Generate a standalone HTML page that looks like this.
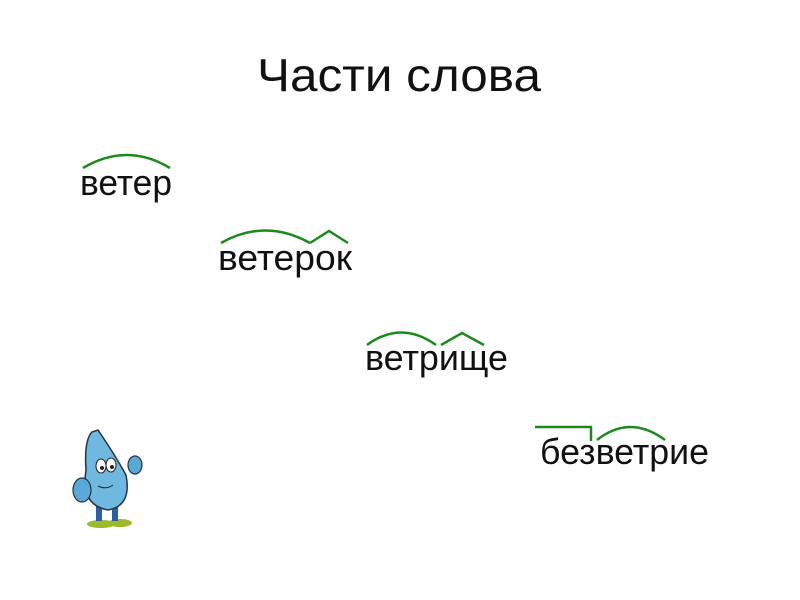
<!DOCTYPE html>
<html><head><meta charset="utf-8"><style>
html,body{margin:0;padding:0;background:#fff;width:800px;height:600px;overflow:hidden}
</style></head><body>
<svg width="800" height="600" xmlns="http://www.w3.org/2000/svg" font-family="'Liberation Sans', sans-serif">
<rect width="800" height="600" fill="#fff"/>
<text x="257" y="91" font-size="46" textLength="284" lengthAdjust="spacingAndGlyphs" fill="#111">Части слова</text>
<g font-size="36" fill="#111">
<text x="80" y="195" textLength="92" lengthAdjust="spacingAndGlyphs">ветер</text>
<text x="218" y="270" textLength="134" lengthAdjust="spacingAndGlyphs">ветерок</text>
<text x="365" y="370" textLength="143" lengthAdjust="spacingAndGlyphs">ветрище</text>
<text x="540" y="464" textLength="169" lengthAdjust="spacingAndGlyphs">безветрие</text>
</g>
<g stroke="#1a8a1a" stroke-width="2.5" fill="none">
<path d="M83 168 Q127 142 170 168"/>
<path d="M221 243 Q265 218 310 243"/>
<path d="M310 243 L329 231 L348 243"/>
<path d="M367 345 Q401 320 436 345"/>
<path d="M441 345 L462 333 L484 345"/>
<path d="M535 427 L591 427 L591 441"/>
<path d="M597 440 Q630 414 665 440"/>
</g>
<g>
<ellipse cx="101" cy="524" rx="14" ry="4" fill="#9bbb2a"/>
<ellipse cx="120" cy="523" rx="12" ry="4" fill="#9bbb2a"/>
<rect x="96" y="505" width="6" height="16" fill="#2a5fa8"/>
<rect x="112" y="505" width="6" height="16" fill="#2a5fa8"/>
<path d="M92 432 Q84 440 86 470 Q80 505 108 510 Q132 506 126 475 Q115 455 98 430 Z" fill="#6fb8e0" stroke="#234" stroke-width="1.5"/>
<ellipse cx="82" cy="490" rx="9" ry="12" fill="#5aa8d8" stroke="#234" stroke-width="1.2"/>
<ellipse cx="135" cy="465" rx="7" ry="9" fill="#5aa8d8" stroke="#234" stroke-width="1.2"/>
<ellipse cx="101" cy="466" rx="5" ry="7" fill="#fff" stroke="#222"/>
<ellipse cx="111" cy="465" rx="5" ry="7" fill="#fff" stroke="#222"/>
<circle cx="102" cy="468" r="2" fill="#222"/>
<circle cx="112" cy="467" r="2" fill="#222"/>
<path d="M98 486 Q106 490 113 485" stroke="#222" fill="none"/>
</g>
</svg>
</body></html>
